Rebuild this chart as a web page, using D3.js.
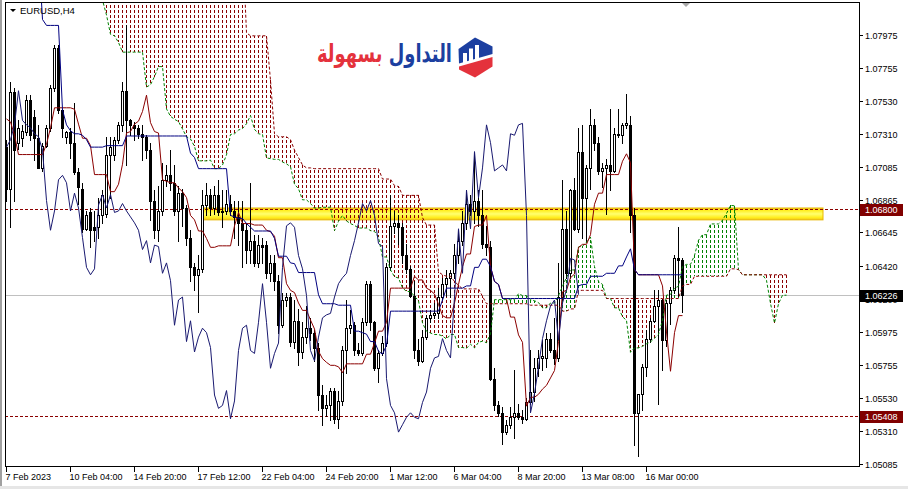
<!DOCTYPE html>
<html><head><meta charset="utf-8">
<script src="https://cdn.jsdelivr.net/npm/d3@7"></script>
<style>html,body{margin:0;padding:0;background:#fff;}svg{display:block;}</style>
</head><body>
<svg id="chart" width="908" height="489"></svg>
<script>
// ---------------- DATA (EURUSD, H4) ----------------
const opens = [1.0722,1.0694,1.0759,1.0725,1.0728,1.0732,1.0754,1.0742,1.0728,1.0708,
1.0723,1.0735,1.0762,1.0789,1.0747,1.0729,1.0732,1.0725,1.0705,1.0694,
1.0667,1.0678,1.0668,1.0668,1.0676,1.0677,1.0717,1.0717,1.0727,1.0737,
1.0760,1.0740,1.0737,1.0735,1.0731,1.0729,1.0720,1.0686,1.0666,1.0679,
1.0700,1.0703,1.0698,1.0679,1.0691,1.0681,1.0661,1.0641,1.0636,1.0640,
1.0683,1.0690,1.0681,1.0690,1.0678,1.0679,1.0684,1.0679,1.0675,1.0671,
1.0666,1.0653,1.0659,1.0644,1.0656,1.0656,1.0637,1.0644,1.0632,1.0602,
1.0619,1.0621,1.0591,1.0605,1.0584,1.0594,1.0600,1.0597,1.0587,1.0555,
1.0546,1.0548,1.0558,1.0539,1.0551,1.0585,1.0600,1.0602,1.0585,1.0583,
1.0604,1.0630,1.0604,1.0573,1.0583,1.0590,1.0641,1.0669,1.0671,1.0668,
1.0649,1.0640,1.0622,1.0585,1.0578,1.0594,1.0607,1.0609,1.0610,1.0621,
1.0630,1.0634,1.0637,1.0649,1.0659,1.0671,1.0684,1.0679,1.0686,1.0676,
1.0657,1.0655,1.0566,1.0548,1.0543,1.0530,1.0535,1.0540,1.0543,1.0540,
1.0539,1.0550,1.0557,1.0573,1.0580,1.0580,1.0593,1.0585,1.0580,1.0621,
1.0667,1.0637,1.0693,1.0667,1.0719,1.0688,1.0708,1.0737,1.0725,1.0706,
1.0708,1.0710,1.0706,1.0731,1.0730,1.0737,1.0737,1.0676,1.0543,1.0556,
1.0574,1.0593,1.0605,1.0615,1.0619,1.0592,1.0617,1.0626,1.0647,1.0646];

const highs = [1.0727,1.0766,1.0762,1.0740,1.0737,1.0757,1.0757,1.0747,1.0737,1.0725,
1.0737,1.0764,1.0791,1.0791,1.0748,1.0733,1.0735,1.0752,1.0708,1.0698,
1.0679,1.0681,1.0679,1.0688,1.0693,1.0729,1.0729,1.0729,1.0739,1.0766,
1.0804,1.0741,1.0739,1.0737,1.0737,1.0730,1.0725,1.0693,1.0696,1.0711,
1.0710,1.0720,1.0710,1.0696,1.0694,1.0683,1.0666,1.0644,1.0649,1.0693,
1.0698,1.0694,1.0696,1.0700,1.0693,1.0693,1.0690,1.0686,1.0686,1.0686,
1.0671,1.0698,1.0663,1.0663,1.0661,1.0659,1.0649,1.0649,1.0636,1.0624,
1.0624,1.0624,1.0619,1.0613,1.0604,1.0615,1.0607,1.0599,1.0590,1.0562,
1.0555,1.0560,1.0560,1.0558,1.0588,1.0619,1.0612,1.0604,1.0590,1.0607,
1.0632,1.0632,1.0605,1.0585,1.0595,1.0644,1.0690,1.0679,1.0676,1.0671,
1.0657,1.0642,1.0632,1.0593,1.0599,1.0609,1.0612,1.0617,1.0627,1.0634,
1.0639,1.0639,1.0657,1.0666,1.0679,1.0693,1.0690,1.0718,1.0693,1.0693,
1.0669,1.0659,1.0573,1.0551,1.0547,1.0538,1.0547,1.0572,1.0549,1.0545,
1.0553,1.0585,1.0580,1.0585,1.0592,1.0597,1.0597,1.0607,1.0644,1.0700,
1.0679,1.0694,1.0701,1.0735,1.0737,1.0710,1.0748,1.0741,1.0729,1.0711,
1.0714,1.0748,1.0735,1.0748,1.0738,1.0758,1.0743,1.0681,1.0556,1.0576,
1.0599,1.0607,1.0626,1.0626,1.0620,1.0619,1.0628,1.0649,1.0668,1.0647];

const lows = [1.0686,1.0668,1.0686,1.0721,1.0723,1.0730,1.0727,1.0713,1.0708,1.0706,
1.0722,1.0733,1.0760,1.0745,1.0729,1.0725,1.0715,1.0704,1.0684,1.0665,
1.0666,1.0655,1.0659,1.0661,1.0671,1.0675,1.0688,1.0713,1.0725,1.0733,
1.0710,1.0730,1.0727,1.0728,1.0713,1.0715,1.0673,1.0661,1.0659,1.0676,
1.0696,1.0693,1.0676,1.0659,1.0669,1.0656,1.0632,1.0626,1.0611,1.0638,
1.0676,1.0676,1.0677,1.0676,1.0668,1.0677,1.0676,1.0661,1.0656,1.0641,
1.0644,1.0644,1.0642,1.0641,1.0644,1.0634,1.0632,1.0626,1.0597,1.0601,
1.0615,1.0588,1.0587,1.0575,1.0580,1.0590,1.0592,1.0578,1.0545,1.0535,
1.0541,1.0538,1.0536,1.0533,1.0548,1.0570,1.0597,1.0582,1.0582,1.0582,
1.0602,1.0599,1.0572,1.0564,1.0582,1.0588,1.0639,1.0664,1.0657,1.0644,
1.0637,1.0621,1.0580,1.0575,1.0577,1.0593,1.0604,1.0607,1.0607,1.0619,
1.0622,1.0621,1.0634,1.0644,1.0656,1.0667,1.0676,1.0671,1.0669,1.0654,
1.0649,1.0565,1.0545,1.0541,1.0522,1.0529,1.0533,1.0526,1.0539,1.0536,
1.0538,1.0549,1.0551,1.0568,1.0572,1.0574,1.0584,1.0576,1.0578,1.0619,
1.0634,1.0634,1.0666,1.0665,1.0661,1.0659,1.0694,1.0720,1.0704,1.0695,
1.0677,1.0693,1.0705,1.0729,1.0725,1.0735,1.0665,1.0521,1.0514,1.0545,
1.0568,1.0591,1.0604,1.0549,1.0572,1.0588,1.0603,1.0624,1.0622,1.0611];

const closes = [1.0694,1.0759,1.0720,1.0735,1.0733,1.0754,1.0730,1.0728,1.0708,1.0723,
1.0735,1.0762,1.0789,1.0747,1.0735,1.0732,1.0725,1.0705,1.0695,1.0667,
1.0676,1.0666,1.0666,1.0676,1.0690,1.0717,1.0722,1.0727,1.0737,1.0760,
1.0740,1.0737,1.0735,1.0731,1.0729,1.0720,1.0686,1.0666,1.0679,1.0700,
1.0703,1.0698,1.0679,1.0691,1.0681,1.0661,1.0641,1.0636,1.0640,1.0683,
1.0690,1.0681,1.0690,1.0678,1.0679,1.0684,1.0679,1.0675,1.0671,1.0666,
1.0653,1.0659,1.0644,1.0656,1.0655,1.0637,1.0644,1.0632,1.0602,1.0619,
1.0621,1.0591,1.0605,1.0584,1.0594,1.0600,1.0597,1.0587,1.0555,1.0546,
1.0548,1.0558,1.0539,1.0551,1.0585,1.0600,1.0602,1.0585,1.0583,1.0604,
1.0630,1.0604,1.0573,1.0583,1.0590,1.0641,1.0669,1.0671,1.0668,1.0649,
1.0640,1.0622,1.0585,1.0578,1.0594,1.0607,1.0609,1.0610,1.0621,1.0630,
1.0634,1.0637,1.0649,1.0659,1.0671,1.0684,1.0679,1.0686,1.0676,1.0657,
1.0655,1.0566,1.0548,1.0543,1.0530,1.0535,1.0540,1.0543,1.0540,1.0539,
1.0550,1.0557,1.0573,1.0580,1.0581,1.0593,1.0585,1.0580,1.0621,1.0667,
1.0637,1.0693,1.0667,1.0719,1.0688,1.0708,1.0737,1.0725,1.0706,1.0708,
1.0710,1.0706,1.0731,1.0730,1.0737,1.0738,1.0676,1.0543,1.0556,1.0574,
1.0593,1.0605,1.0615,1.0619,1.0592,1.0617,1.0626,1.0647,1.0646,1.06226];

// Ichimoku values before enough history is visible
const tenkanEarly = [1.0741,1.0739,1.0730,1.0717,1.0717,1.0717,1.0717,1.0717];
const kijunEarly = [1.0855,1.0855,1.0855,1.0855,1.0855,1.0855,1.0855,1.0855,1.0855,1.0808,
1.0804,1.0804,1.0804,1.0804,1.0747,1.0737,1.0733,1.0731,1.0731,1.0730,
1.0727,1.0722,1.0722,1.0722,1.0722];
const spanAEarly = [1.0848,1.0848,1.0848,1.0848,1.0848,1.0848,1.0848,1.0848,1.0848,1.0848,
1.0848,1.0848,1.0848,1.0848,1.0848,1.0848,1.0848,1.0848,1.0848,1.0848,
1.0848,1.0848,1.0848,1.0848,1.0821,1.0811];
const spanBEarly = [1.0861,1.0861,1.0861,1.0861,1.0861,1.0861,1.0861,1.0861,1.0861,1.0861,
1.0861,1.0861,1.0861,1.0861,1.0861,1.0861,1.0861,1.0861,1.0861,1.0861,
1.0861,1.0861,1.0861,1.0861,1.0861,1.0861,1.0861,1.0861,1.0861,1.0861,
1.0861,1.0861,1.0861,1.0861,1.0861,1.0861,1.0861,1.0861,1.0861,1.0861,
1.0861,1.0861,1.0861,1.0861,1.0861,1.0861,1.0861,1.0861,1.0861,1.0861,
1.0861,1.0861,1.0861,1.0861,1.0861,1.0861,1.0861,1.0861,1.0861,1.0861,
1.0799,1.0797,1.0797,1.0797,1.0797,1.0797,1.0767,1.0731,1.0729,1.0729,
1.0729,1.0727,1.0720,1.0715,1.0710,1.0708,1.0708];

const priceTicks = [1.07975,1.07755,1.07530,1.07310,1.07085,1.06865,1.06645,1.06420,1.06200,1.05975,1.05755,1.05530,1.05310,1.05085];
const timeLabels = ["7 Feb 2023","10 Feb 04:00","14 Feb 20:00","17 Feb 12:00","22 Feb 04:00","24 Feb 20:00","1 Mar 12:00","6 Mar 04:00","8 Mar 20:00","13 Mar 08:00","16 Mar 00:00"];
const timeLabelBars = [0,16,32,48,64,80,96,112,128,144,160];
const levelPrices = [1.06800, 1.05408];
const currentPrice = 1.06226;
const zonePrices = [1.0681, 1.0673];
const zoneBars = [49.25, 204.25];
const symbolTitle = "EURUSD,H4";
const logoWords = ["التداول", "بسهولة"];

// ---------------- SCALES ----------------
const P = {l:5, r:859, t:3, b:467};
const x = d3.scaleLinear().domain([-0.25, 213.25]).range([P.l, P.r]);
const y = d3.scaleLinear().domain([1.08191, 1.05065]).range([P.t, P.b]);
const px = i => Math.round(x(i)) + 0.5;

// ---------------- INDICATORS (Ichimoku 9/26/52) ----------------
const n = closes.length;
const mid = (a, b) => (d3.max(highs.slice(a, b + 1)) + d3.min(lows.slice(a, b + 1))) / 2;
const tenkan = d3.range(n).map(i => i < 8 ? tenkanEarly[i] : mid(i - 8, i));
const kijun = d3.range(n).map(i => i < 25 ? kijunEarly[i] : mid(i - 25, i));
const spanA = d3.range(n + 26).map(i => i < 26 ? spanAEarly[i] : (tenkan[i - 26] + kijun[i - 26]) / 2);
const spanB = d3.range(n + 26).map(i => i < 77 ? spanBEarly[i] : mid(i - 77, i - 26));
const chikou = d3.range(n - 26).map(i => closes[i + 26]);

const candles = d3.range(n).map(i => ({i, o: opens[i], h: Math.max(highs[i], opens[i], closes[i]), l: Math.min(lows[i], opens[i], closes[i]), c: closes[i]}));

// ---------------- DRAW ----------------
const svg = d3.select('#chart');
const FONT = "'Liberation Sans', Arial, sans-serif";
svg.append('rect').attr('width', 908).attr('height', 489).attr('fill', '#fff');
svg.append('rect').attr('x', 0).attr('y', 486).attr('width', 908).attr('height', 3).attr('fill', '#e6e6e6');
svg.append('rect').attr('x', 0).attr('y', 0).attr('width', 2).attr('height', 486).attr('fill', '#a0a0a0');

const defs = svg.append('defs');
defs.append('clipPath').attr('id', 'pc').append('rect')
  .attr('x', P.l + 0.5).attr('y', P.t).attr('width', P.r - P.l).attr('height', P.b - P.t);
const grad = defs.append('linearGradient').attr('id', 'zg').attr('x1', 0).attr('y1', 0).attr('x2', 0).attr('y2', 1);
[[0,'#f0c020'],[0.18,'#ffec1a'],[0.5,'#ffff70'],[0.82,'#ffec1a'],[1,'#f0c020']].forEach(s =>
  grad.append('stop').attr('offset', s[0]).attr('stop-color', s[1]));

const g = svg.append('g').attr('clip-path', 'url(#pc)');

// zone rectangle (background object)
g.append('rect')
  .attr('x', x(zoneBars[0])).attr('width', x(zoneBars[1]) - x(zoneBars[0]))
  .attr('y', y(zonePrices[0])).attr('height', y(zonePrices[1]) - y(zonePrices[0]))
  .attr('fill', 'url(#zg)').attr('stroke', '#e8b800').attr('stroke-width', 1);

// current price line
g.append('line').attr('x1', P.l).attr('x2', P.r)
  .attr('y1', Math.round(y(currentPrice)) + 0.5).attr('y2', Math.round(y(currentPrice)) + 0.5)
  .attr('stroke', '#c0c0c0').attr('stroke-width', 1);

// cloud hatch
const cloud = d3.range(n + 26).map(i => ({i, a: spanA[i], b: spanB[i]}));
g.append('g').attr('shape-rendering', 'crispEdges').selectAll('line').data(cloud).join('line')
  .each(function(d) {
    const y1 = Math.max(P.t - 5, Math.min(y(d.a), y(d.b)));
    const y2 = Math.min(P.b + 5, Math.max(y(d.a), y(d.b)));
    d3.select(this).attr('x1', px(d.i)).attr('x2', px(d.i)).attr('y1', y1).attr('y2', y2)
      .attr('stroke', d.a > d.b ? '#008000' : '#8b0000').attr('stroke-width', 1)
      .attr('stroke-dasharray', '3,2').attr('stroke-dashoffset', ((y1 % 5) + 5) % 5);
  });

// horizontal levels
g.selectAll('line.lvl').data(levelPrices).join('line').attr('class', 'lvl')
  .attr('x1', P.l).attr('x2', P.r)
  .attr('y1', d => Math.round(y(d)) + 0.5).attr('y2', d => Math.round(y(d)) + 0.5)
  .attr('stroke', '#8b0000').attr('stroke-width', 1).attr('stroke-dasharray', '3,2');

// candles
const cg = g.append('g').attr('shape-rendering', 'crispEdges');
cg.selectAll('line.wick').data(candles).join('line').attr('class', 'wick')
  .attr('x1', d => px(d.i)).attr('x2', d => px(d.i))
  .attr('y1', d => Math.round(y(d.h))).attr('y2', d => Math.round(y(d.l)) + 1)
  .attr('stroke', '#000');
cg.selectAll('rect.body').data(candles.filter(d => Math.abs(Math.round(y(d.o)) - Math.round(y(d.c))) >= 1)).join('rect').attr('class', 'body')
  .each(function(d) {
    const t = Math.round(Math.min(y(d.o), y(d.c))), b = Math.round(Math.max(y(d.o), y(d.c)));
    const cx = Math.round(x(d.i));
    const s = d3.select(this);
    if (d.c > d.o) s.attr('x', cx - 0.5).attr('y', t + 0.5).attr('width', 2).attr('height', b - t).attr('fill', '#fff').attr('stroke', '#000');
    else s.attr('x', cx - 1).attr('y', t).attr('width', 3).attr('height', b - t + 1).attr('fill', '#000');
  });
cg.selectAll('line.doji').data(candles.filter(d => Math.abs(Math.round(y(d.o)) - Math.round(y(d.c))) < 1)).join('line').attr('class', 'doji')
  .attr('x1', d => Math.round(x(d.i)) - 1).attr('x2', d => Math.round(x(d.i)) + 2)
  .attr('y1', d => Math.round(y(d.c)) + 0.5).attr('y2', d => Math.round(y(d.c)) + 0.5)
  .attr('stroke', '#000');

// span lines
const lineGen = d3.line().x(d => px(d.i)).y(d => y(d.v));
g.append('path').datum(cloud.map(d => ({i: d.i, v: d.a}))).attr('d', lineGen)
  .attr('fill', 'none').attr('stroke', '#008000').attr('stroke-dasharray', '3,2');
g.append('path').datum(cloud.map(d => ({i: d.i, v: d.b}))).attr('d', lineGen)
  .attr('fill', 'none').attr('stroke', '#8b0000').attr('stroke-dasharray', '3,2');
// tenkan, kijun, chikou
g.append('path').datum(tenkan.map((v, i) => ({i, v}))).attr('d', lineGen)
  .attr('fill', 'none').attr('stroke', '#8b0000').attr('stroke-width', 1);
g.append('path').datum(kijun.map((v, i) => ({i, v}))).attr('d', lineGen)
  .attr('fill', 'none').attr('stroke', '#000080').attr('stroke-width', 1);
g.append('path').datum(chikou.map((v, i) => ({i, v}))).attr('d', lineGen)
  .attr('fill', 'none').attr('stroke', '#191970').attr('stroke-width', 1);

// frame
svg.append('rect').attr('x', P.l + 0.5).attr('y', P.t - 0.5).attr('width', P.r - P.l).attr('height', P.b - P.t)
  .attr('fill', 'none').attr('stroke', '#000').attr('shape-rendering', 'crispEdges');

// price axis
const ax = svg.append('g').attr('font-family', FONT).attr('font-size', 9);
ax.selectAll('line.pt').data(priceTicks).join('line').attr('class', 'pt')
  .attr('x1', P.r).attr('x2', P.r + 4)
  .attr('y1', d => Math.round(y(d)) + 0.5).attr('y2', d => Math.round(y(d)) + 0.5)
  .attr('stroke', '#000').attr('shape-rendering', 'crispEdges');
ax.selectAll('text.pt').data(priceTicks).join('text').attr('class', 'pt')
  .attr('x', 865).attr('y', d => Math.round(y(d)) + 4).attr('fill', '#000')
  .text(d => d.toFixed(5));

// price tags
const tags = levelPrices.map(p => ({p, fill: '#800000'})).concat([{p: currentPrice, fill: '#000'}]);
const tg = ax.selectAll('g.tag').data(tags).join('g').attr('class', 'tag');
tg.append('rect').attr('x', P.r + 0.5).attr('y', d => Math.round(y(d.p)) - 5.5).attr('width', 43).attr('height', 12)
  .attr('fill', d => d.fill).attr('shape-rendering', 'crispEdges');
tg.append('text').attr('x', 865).attr('y', d => Math.round(y(d.p)) + 4).attr('fill', '#fff')
  .text(d => d.p.toFixed(5));

// time axis
const tx = svg.append('g').attr('font-family', FONT).attr('font-size', 9);
tx.selectAll('line').data(timeLabelBars).join('line')
  .attr('x1', d => px(d)).attr('x2', d => px(d)).attr('y1', P.b).attr('y2', P.b + 5)
  .attr('stroke', '#000').attr('shape-rendering', 'crispEdges');
tx.selectAll('text').data(timeLabels).join('text')
  .attr('x', (d, k) => x(timeLabelBars[k]) - 0.5).attr('y', 480).attr('fill', '#000')
  .text(d => d);

// title
svg.append('path').attr('d', 'M10,9 L16,9 L13,12 Z').attr('fill', '#000');
svg.append('text').attr('x', 20).attr('y', 14).attr('font-family', FONT).attr('font-size', 9.5).attr('fill', '#000').text(symbolTitle);
// chart shift marker
svg.append('path').attr('d', 'M682,3 L690,3 L686,7 Z').attr('fill', '#a8a8a8');

// logo watermark
const lg = svg.append('g');
lg.append('path').attr('d', 'M458.5,49 L475,37.5 L492.5,46.5 L492.5,54 L459,63.5 Z').attr('fill', '#1c3fa0');
lg.append('path').attr('d', 'M459,66.5 L492.5,57 L492.5,66.5 L475,77.5 L459,69.5 Z').attr('fill', '#e4323c');
[[463,53,63],[469,48.5,61.5],[475,45,59.5]].forEach(b =>
  lg.append('rect').attr('x', b[0]).attr('y', b[1]).attr('width', 4).attr('height', b[2] - b[1]).attr('fill', '#fff'));
const lt = lg.append('text').attr('x', 452).attr('y', 62).attr('direction', 'rtl').attr('text-anchor', 'start')
  .attr('font-family', "'DejaVu Sans', sans-serif").attr('font-weight', 'bold').attr('font-size', 25)
  .attr('textLength', 135).attr('lengthAdjust', 'spacingAndGlyphs');
lt.append('tspan').attr('fill', '#1c3fa0').text(logoWords[0]);
lt.append('tspan').attr('fill', '#e4323c').text(' ' + logoWords[1]);
</script>
</body></html>
